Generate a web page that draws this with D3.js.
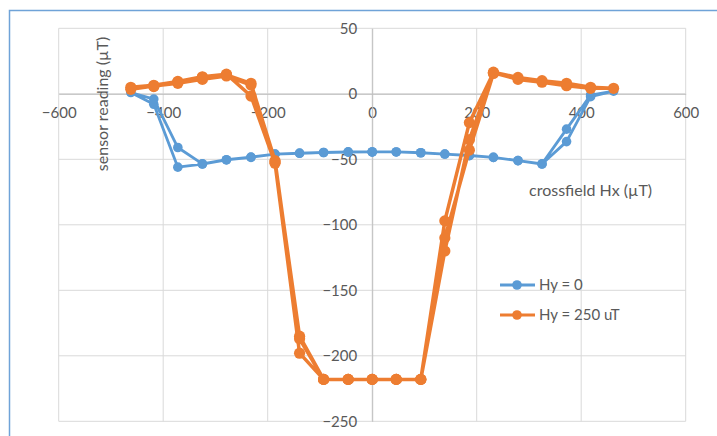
<!DOCTYPE html>
<html>
<head>
<meta charset="utf-8">
<script src="https://cdn.jsdelivr.net/npm/d3@7"></script>
<style>
  html, body { margin: 0; padding: 0; background: #fff; }
  svg { display: block; font-family: Lato, "Open Sans", sans-serif; }
</style>
</head>
<body>
<script>
// ---- data ----
var xTicks = [-600, -400, -200, 0, 200, 400, 600];
var yTicks = [-250, -200, -150, -100, -50, 0, 50];
var seriesNames = ["Hy = 0", "Hy = 250 uT"];
var seriesColors = ["#5b9bd5", "#ed7d31"];

// Hy = 0 : sweep to the left, back to the right, then back to zero
var hy0X = [0, -46, -93, -139, -186, -232, -279, -325, -372, -418, -462,
            -418, -372, -325, -279, -232, -186, -139, -93, -46, 0, 46, 93, 139, 186, 232, 279, 325, 372, 418, 462,
            418, 372, 325, 279, 232, 186, 139, 93, 46, 0];
var hy0Y = [-44.4, -44.5, -44.8, -45.4, -46, -48.5, -50.5, -53.6, -56, -8, 1,
            -4, -41, -53.5, -50.3, -48.3, -46, -45.3, -44.8, -44.3, -44.4, -44.4, -45, -46, -47.2, -48.5, -51, -53.6, -36.5, -2.2, 2,
            -1, -27, -53.5, -51, -48.5, -47, -46, -45, -44.4, -44.4];

// Hy = 250 uT : up sweep, down sweep, then a last up sweep back to zero
var hy250X = [-462, -418, -372, -325, -279, -232, -186, -139, -93, -46, 0, 46, 93, 139, 186, 232, 279, 325, 372, 418, 462,
              418, 372, 325, 279, 232, 186, 139, 93, 46, 0, -46, -93, -139, -186, -232, -279, -325, -372, -418, -462,
              -418, -372, -325, -279, -232, -186, -139, -93, -46, 0, 46, 93, 139, 186, 232];
var hy250Y = [3.4, 6, 8, 11, 13.6, 6.7, -52, -185, -218, -218, -218, -218, -218, -97, -22, 16, 11, 8.8, 6.2, 4.2, 4.2,
              5, 8, 10, 12.5, 16.5, -35, -120, -218, -218, -218, -218, -218, -198, -53, -1.7, 15, 13, 9.5, 6.5, 5,
              5.5, 9, 12.5, 14.5, 8, -51, -187, -218, -218, -218, -218, -218, -110, -43, 15.5];

var W = 717, H = 436;
var svg = d3.select("body").append("svg").attr("width", W).attr("height", H);

// chart frame (cut off on the right and bottom)
svg.append("rect")
  .attr("x", 9.5).attr("y", 10.5)
  .attr("width", 760).attr("height", 460)
  .style("fill", "none")
  .style("stroke", "#6fa3d8")
  .style("stroke-width", 1.5);

var x = d3.scaleLinear().domain([-600, 600]).range([58.7, 685.7]);
var y = d3.scaleLinear().domain([-250, 50]).range([421.3, 28.3]);

// grid
var grid = svg.append("g");
grid.selectAll(".gy").data(yTicks).enter().append("line")
  .attr("x1", x(-600)).attr("x2", x(600))
  .attr("y1", function(d){ return y(d); }).attr("y2", function(d){ return y(d); })
  .style("stroke", "#d9d9d9").style("stroke-width", 1);
grid.selectAll(".gx").data(xTicks).enter().append("line")
  .attr("y1", y(50)).attr("y2", y(-250))
  .attr("x1", function(d){ return x(d); }).attr("x2", function(d){ return x(d); })
  .style("stroke", "#d9d9d9").style("stroke-width", 1);

// axes through zero
var xAxis = svg.append("g")
  .attr("transform", "translate(0," + y(0) + ")")
  .call(d3.axisBottom(x).tickValues(xTicks).tickSize(0).tickPadding(14));
var yAxis = svg.append("g")
  .attr("transform", "translate(" + x(0) + ",0)")
  .call(d3.axisLeft(y).tickValues(yTicks).tickSize(0).tickPadding(15));
[xAxis, yAxis].forEach(function(a){
  a.select(".domain").style("stroke", "#bfbfbf");
  a.selectAll("text").style("fill", "#595959").style("font-size", "15px").style("font-family", "Lato, sans-serif");
});

// axis titles
svg.append("text")
  .text("crossfield Hx (\u00b5T)")
  .attr("x", 529).attr("y", 196)
  .style("fill", "#595959").style("font-size", "16px");
svg.append("text")
  .text("sensor reading (\u00b5T)")
  .attr("transform", "translate(108,104) rotate(-90)")
  .attr("text-anchor", "middle")
  .style("fill", "#595959").style("font-size", "16px");

// series
var series = [
  { xs: hy0X, ys: hy0Y, color: seriesColors[0], width: 2.8, r: 4.8 },
  { xs: hy250X, ys: hy250Y, color: seriesColors[1], width: 3.5, r: 5.6 }
];
var line = d3.line().x(function(d){ return x(d[0]); }).y(function(d){ return y(d[1]); });

series.forEach(function(s){
  var pts = d3.zip(s.xs, s.ys);
  var g = svg.append("g");
  g.append("path")
    .datum(pts)
    .attr("d", line)
    .style("fill", "none")
    .style("stroke", s.color)
    .style("stroke-width", s.width)
    .style("stroke-linejoin", "round");
  g.selectAll("circle").data(pts).enter().append("circle")
    .attr("cx", function(d){ return x(d[0]); })
    .attr("cy", function(d){ return y(d[1]); })
    .attr("r", s.r)
    .style("fill", s.color);
});

// legend
var legend = svg.append("g");
seriesNames.forEach(function(name, i){
  var ly = 285 + i * 30;
  legend.append("line")
    .attr("x1", 500).attr("x2", 535).attr("y1", ly).attr("y2", ly)
    .style("stroke", seriesColors[i]).style("stroke-width", 2.8);
  legend.append("circle")
    .attr("cx", 517).attr("cy", ly).attr("r", 4.8)
    .style("fill", seriesColors[i]);
  legend.append("text")
    .text(name)
    .attr("x", 539).attr("y", ly).attr("dy", "0.35em")
    .style("fill", "#595959").style("font-size", "15px");
});
</script>
</body>
</html>
